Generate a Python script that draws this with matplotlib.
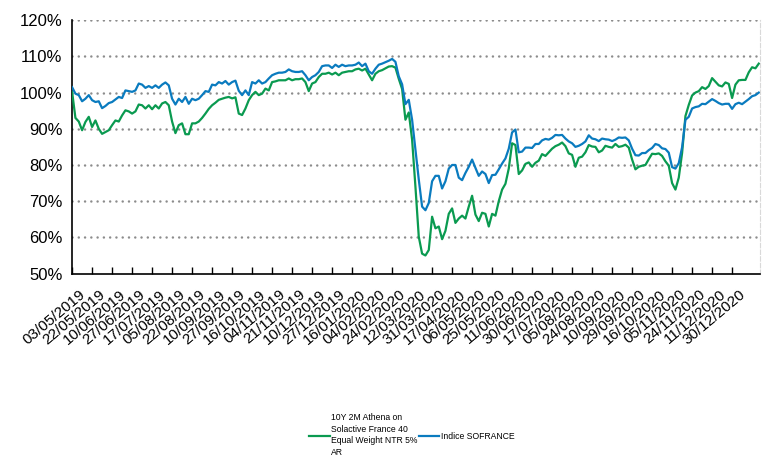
import numpy as np
import matplotlib
matplotlib.use('Agg')
from matplotlib import pyplot as plt
from matplotlib import transforms

plt.rcParams['font.family'] = ['Liberation Sans', 'DejaVu Sans']

# index levels in %, one reading every 13/6 trading days from 03/05/2019
athena = [
    100.2, 93.0, 92.0, 89.6, 91.9, 93.3, 90.5, 92.3, 90.0, 88.6,
    89.1, 89.6, 91.0, 92.3, 92.0, 93.7, 95.1, 94.8, 94.2, 94.8,
    96.7, 96.5, 95.6, 96.5, 95.4, 96.5, 95.6, 97.0, 97.4, 96.5,
    92.0, 88.8, 91.0, 91.5, 88.5, 88.5, 91.5, 91.5, 92.0, 93.0,
    94.2, 95.5, 96.5, 97.2, 98.0, 98.3, 98.6, 98.8, 98.4, 98.7,
    94.2, 93.8, 95.6, 97.9, 99.3, 100.2, 99.3, 99.7, 101.1, 100.6,
    102.9, 103.1, 103.4, 103.4, 103.4, 103.9, 103.4, 103.7, 103.7, 103.9,
    102.9, 100.4, 102.5, 102.9, 104.3, 105.2, 105.2, 105.5, 105.0, 105.5,
    104.8, 105.5, 105.7, 105.9, 105.9, 106.4, 106.6, 106.1, 106.6, 105.0,
    103.4, 105.2, 105.9, 106.2, 106.7, 107.2, 107.3, 106.9, 103.8, 101.0,
    92.5, 94.5, 87.0, 74.0, 60.2, 55.5, 55.0, 56.5, 65.7, 62.5,
    63.0, 59.5, 61.8, 66.5, 68.0, 64.0, 65.2, 66.0, 65.2, 68.5,
    71.5, 66.3, 64.5, 66.8, 66.5, 63.0, 66.5, 66.0, 70.0, 73.2,
    74.8, 79.0, 86.0, 85.5, 77.5, 78.5, 80.3, 80.7, 79.5, 80.6,
    81.2, 83.0, 82.5, 83.5, 84.5, 85.2, 85.6, 86.2, 85.2, 83.2,
    82.8, 79.5, 82.0, 82.3, 83.5, 85.5, 85.1, 85.0, 83.5, 84.0,
    85.3, 85.0, 84.8, 85.8, 85.0, 85.2, 85.6, 84.8, 81.5, 78.8,
    79.5, 79.8, 80.0, 81.6, 83.1, 83.0, 83.2, 82.5, 81.0, 79.8,
    75.0, 73.2, 76.5, 83.3, 93.5, 96.6, 99.2, 100.0, 100.4, 101.5,
    101.0, 101.8, 104.0, 103.0, 102.0, 101.7, 102.8, 102.4, 98.5, 102.2,
    103.4, 103.5, 103.5, 105.6, 107.0, 106.7, 108.0,
]
sofrance = [
    101.5, 99.7, 99.3, 97.6, 98.3, 99.3, 97.9, 97.4, 97.6, 95.7,
    96.3, 97.1, 97.4, 98.1, 98.8, 98.5, 100.6, 100.4, 100.2, 100.6,
    102.5, 102.2, 101.3, 101.8, 101.3, 102.0, 101.3, 102.2, 102.8, 102.0,
    98.3, 96.7, 98.3, 97.4, 98.8, 96.9, 98.3, 97.9, 98.3, 99.3,
    100.4, 100.2, 102.2, 102.0, 102.9, 102.5, 103.2, 102.2, 102.9, 103.3,
    100.5, 99.3, 100.6, 99.3, 102.9, 102.5, 103.4, 102.5, 102.9, 103.9,
    104.8, 105.2, 105.5, 105.5, 105.7, 106.4, 105.9, 105.7, 105.7, 105.9,
    104.8, 103.4, 104.3, 104.8, 105.7, 107.3, 107.5, 107.5, 106.8, 107.7,
    107.1, 107.7, 107.3, 107.5, 107.5, 107.7, 108.3, 107.3, 108.0, 105.9,
    105.2, 106.6, 107.7, 108.0, 108.4, 108.8, 109.3, 108.5, 104.5, 102.3,
    96.8, 98.0, 92.5, 84.3, 76.0, 68.5, 67.5, 69.5, 75.5, 77.0,
    77.0, 73.5, 75.5, 79.0, 80.0, 80.0, 76.5, 75.8, 77.8, 79.5,
    81.5, 79.2, 77.0, 78.2, 77.5, 75.0, 77.2, 77.3, 78.8, 80.4,
    81.8, 84.5, 89.0, 89.8, 83.5, 83.7, 84.8, 84.8, 84.7, 85.8,
    85.8, 86.8, 87.2, 87.0, 87.5, 88.3, 88.2, 88.3, 87.3, 86.5,
    86.0, 85.0, 85.3, 85.8, 86.5, 88.2, 87.3, 87.1, 86.6, 87.3,
    87.1, 87.0, 86.6, 87.0, 87.6, 87.5, 87.6, 86.8, 84.5, 82.7,
    82.6, 83.3, 83.3, 84.1, 84.7, 85.8, 85.5, 84.6, 84.4, 83.4,
    79.4, 79.0, 80.5, 84.9, 92.5, 93.3, 95.6, 96.0, 96.2, 96.9,
    96.8, 97.5, 98.2, 97.7, 97.1, 96.7, 96.9, 96.9, 95.5, 96.8,
    97.2, 96.8, 97.5, 98.2, 99.0, 99.3, 100.0,
]
date_labels = [
    '03/05/2019', '22/05/2019', '10/06/2019', '27/06/2019', '17/07/2019',
    '05/08/2019', '22/08/2019', '10/09/2019', '27/09/2019', '16/10/2019',
    '04/11/2019', '21/11/2019', '10/12/2019', '27/12/2019', '16/01/2020',
    '04/02/2020', '24/02/2020', '12/03/2020', '31/03/2020', '17/04/2020',
    '06/05/2020', '25/05/2020', '11/06/2020', '30/06/2020', '17/07/2020',
    '05/08/2020', '24/08/2020', '10/09/2020', '29/09/2020', '16/10/2020',
    '05/11/2020', '24/11/2020', '11/12/2020', '30/12/2020',
]
series_names = ['10Y 2M Athena on\nSolactive France 40\nEqual Weight NTR 5%\nAR',
                'Indice SOFRANCE']
yticks = [50, 60, 70, 80, 90, 100, 110, 120]

x = np.arange(len(athena))
per_label = 6  # readings between two date labels

fig = plt.figure(figsize=(7.67, 4.59), dpi=100)
ax = fig.add_axes([0.094, 0.404, 0.897, 0.552])

ax.plot(x, athena, color='#0a9a50', lw=1.6, label=series_names[0], zorder=3)
ax.plot(x, sofrance, color='#0a7bbf', lw=1.6, label=series_names[1], zorder=3)

ax.set_ylim(50, 120)
ax.set_xlim(0, len(x) - 1 + 0.4)
ax.set_yticks(yticks)
ax.set_yticklabels(['{}%'.format(v) for v in yticks], fontsize=12)
ax.tick_params(axis='y', length=0, pad=7)

ax.set_xticks(np.arange(len(date_labels)) * per_label)
ax.set_xticklabels(date_labels, fontsize=11, rotation=40, ha='right', va='top',
                   rotation_mode='anchor')
ax.tick_params(axis='x', direction='in', length=5, width=1, color='k', pad=10)
offset = transforms.ScaledTranslation(7 / 100, 0, fig.dpi_scale_trans)
for lab in ax.get_xticklabels():
    lab.set_transform(lab.get_transform() + offset)

# dotted horizontal grid
for v in yticks[1:]:
    ax.axhline(v, color='#8c8c8c', lw=1.8, linestyle=(0, (0.01, 2.5)),
               dash_capstyle='round', zorder=1)

ax.spines['top'].set_visible(False)
ax.spines['left'].set_linewidth(1.2)
ax.spines['bottom'].set_linewidth(1.2)
ax.spines['right'].set_color('#d9d9d9')
ax.spines['right'].set_linestyle((0, (4, 2)))

leg = fig.legend(loc='center', bbox_to_anchor=(0.537, 0.052), ncol=2, frameon=False,
                 fontsize=6.2, handlelength=2.4, handletextpad=0.15, columnspacing=0.1,
                 borderpad=0.2)
for t in leg.get_texts():
    t.set_linespacing(1.35)

fig.savefig('out.png', dpi=100)
